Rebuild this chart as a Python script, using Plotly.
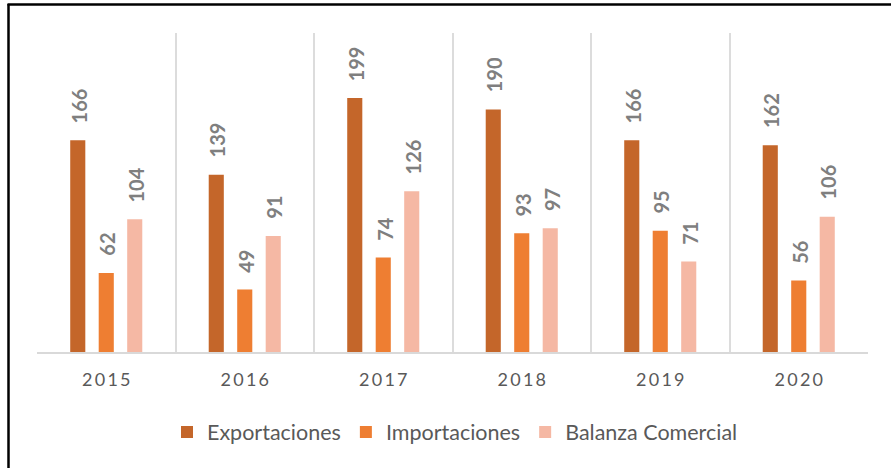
import plotly.graph_objects as go

years = ["2015", "2016", "2017", "2018", "2019", "2020"]
year_labels = ["2\u20090\u20091\u20095", "2\u20090\u20091\u20096", "2\u20090\u20091\u20097",
               "2\u20090\u20091\u20098", "2\u20090\u20091\u20099", "2\u20090\u20092\u20090"]
exportaciones = [166, 139, 199, 190, 166, 162]
importaciones = [62, 49, 74, 93, 95, 56]
balanza = [104, 91, 126, 97, 71, 106]

series = [
    ("Exportaciones", exportaciones, "#C4662A", -28.5),
    ("Importaciones", importaciones, "#EE7E32", 0),
    ("Balanza Comercial", balanza, "#F5B8A4", 28.5),
]

fig = go.Figure()
annotations = []
for name, vals, color, shift in series:
    fig.add_trace(go.Bar(name=name, x=years, y=vals, marker=dict(color=color, line=dict(width=0))))
    for i, v in enumerate(vals):
        annotations.append(dict(
            x=i, y=v, xref="x", yref="y", text=str(v), showarrow=False,
            textangle=-90, xanchor="center", yanchor="bottom",
            xshift=shift + 1, yshift=15,
            font=dict(family="Lato", size=20, color="#7F7F7F", weight="bold"),
        ))

px0, px1, py0, py1 = 37, 868, 33, 352
W, H = px1 - px0, py1 - py0
def pxx(x):
    return (x - px0) / W
def pyy(y):
    return (py1 - y) / H

shapes = [
    dict(type="line", xref="paper", yref="paper", x0=pxx(8.5), x1=pxx(8.5), y0=pyy(4), y1=pyy(470),
         line=dict(color="black", width=2.5)),
    dict(type="line", xref="paper", yref="paper", x0=pxx(7.5), x1=pxx(895), y0=pyy(4.5), y1=pyy(4.5),
         line=dict(color="black", width=2.5)),
]

fig.update_layout(
    width=891, height=468,
    margin=dict(l=px0, r=891 - px1, t=py0, b=468 - py1),
    plot_bgcolor="white", paper_bgcolor="white",
    barmode="group", bargap=0.383, bargroupgap=0.47,
    showlegend=True,
    legend=dict(orientation="h", x=pxx(455), xanchor="center", y=pyy(432), yanchor="middle",
                font=dict(family="Lato", size=21.5, color="#595959"), traceorder="normal"),
    annotations=annotations,
    shapes=shapes,
    xaxis=dict(
        type="category", tickson="boundaries", showgrid=True, gridcolor="#DCDCDC", gridwidth=1.5,
        showline=True, linecolor="#D9D9D9", linewidth=2, ticks="",
        tickvals=years, ticktext=year_labels, ticklabelstandoff=10,
        tickfont=dict(family="Lato", size=18, color="#595959"),
        range=[-0.5, 5.5],
    ),
    yaxis=dict(range=[0, 250], showgrid=False, zeroline=False, showticklabels=False, showline=False),
)

fig.write_html("out.html", config={"displayModeBar": False},
               post_script="document.body.style.margin='0px';document.body.style.overflow='hidden';")
